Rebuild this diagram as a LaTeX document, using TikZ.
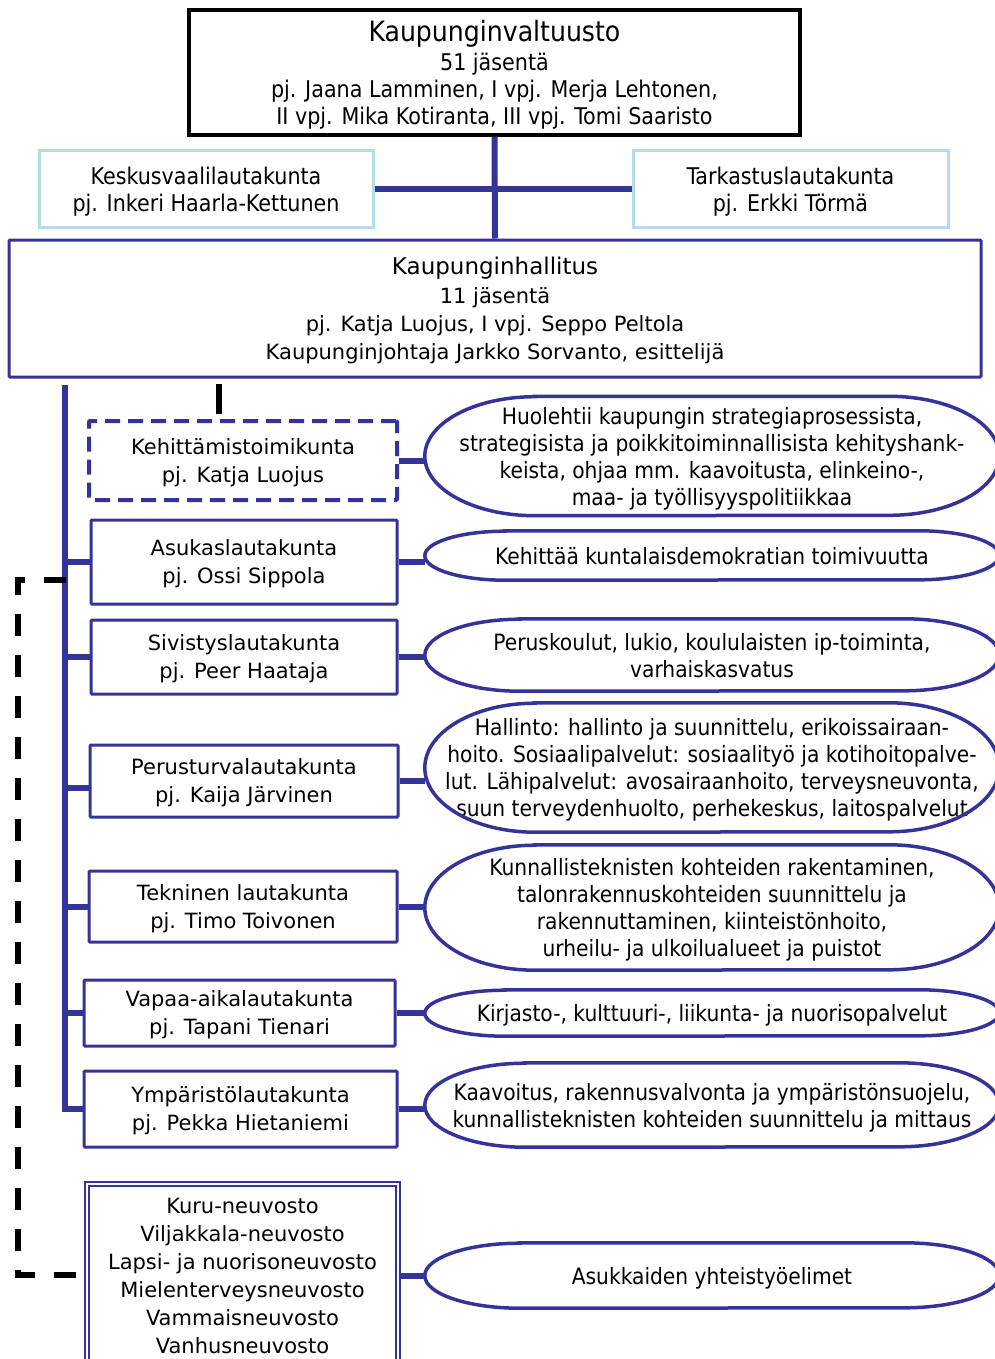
\documentclass[tikz,border=0pt]{standalone}
\usepackage{fontspec}
\setmainfont{DejaVu Sans}
\newfontfamily\cond{DejaVu Sans Condensed}
\usetikzlibrary{calc}
\definecolor{navy}{RGB}{51,51,153}
\definecolor{lblue}{RGB}{180,220,230}
\newcommand\fboxtxt{\fontsize{21}{28}\selectfont}
\newcommand\fcond{\cond\fontsize{22.5}{27}\selectfont}
\newcommand\ftop{\cond\fontsize{23}{27}\selectfont}
\tikzset{
  every node/.style={align=center, inner sep=0pt, text depth=0pt},
  blkbox/.style={draw=black, line width=3.5pt, font=\ftop},
  lbbox/.style={draw=lblue, line width=3pt, font=\ftop},
  nvbox/.style={draw=navy, line width=3pt, rounded corners=1pt, font=\fboxtxt},
  dashbox/.style={draw=navy, line width=4pt, dash pattern=on 15pt off 8pt, rounded corners=1pt, font=\fboxtxt},
  dblbox/.style={draw=navy, double=white, double distance=2.5pt, line width=1.3pt, font=\fboxtxt},
  ovn/.style={draw=none, minimum width=574pt, font=\fcond},
  ovd/.style={draw=navy, line width=3.5pt},
  conn/.style={draw=navy, line width=6pt},
  blkconn/.style={draw=black, line width=6pt},
  blkdash/.style={draw=black, line width=6pt, dash pattern=on 22pt off 19pt},
}
\newcommand\ovalshape[5]{%
  \node[ovn, minimum height=#3pt] (#1) at (712,#2) {#5};
  \draw[ovd] ($(#1.north west)+(#4,0)$) -- ($(#1.north east)+(-#4,0)$)
     arc[start angle=90,end angle=-90,x radius=#4pt,y radius=#3pt/2]
     -- ($(#1.south west)+(#4,0)$)
     arc[start angle=270,end angle=90,x radius=#4pt,y radius=#3pt/2] -- cycle;
}
\begin{document}
\begin{tikzpicture}[x=1pt,y=-1pt]
\useasboundingbox (0,0) rectangle (994,1359);
% top level
\node[blkbox, minimum width=611pt, minimum height=125pt] (kv) at (494.5,72.5)
  {{\fontsize{28}{29}\selectfont Kaupunginvaltuusto}\\[2pt]
   51 jäsentä\\ pj. Jaana Lamminen, I vpj. Merja Lehtonen,\\ II vpj. Mika Kotiranta, III vpj. Tomi Saaristo};
\node[lbbox, minimum width=334pt, minimum height=76pt] (kvl) at (206,189)
  {Keskusvaalilautakunta\\ pj. Inkeri Haarla-Kettunen};
\node[lbbox, minimum width=315pt, minimum height=76pt] (tark) at (790.5,189)
  {Tarkastuslautakunta\\ pj. Erkki Törmä};
\node[nvbox, minimum width=972pt, minimum height=137pt] (kh) at (495,308.5)
  {{\fontsize{23}{29}\selectfont Kaupunginhallitus}\\[1pt]
   11 jäsentä\\ pj. Katja Luojus, I vpj. Seppo Peltola\\ Kaupunginjohtaja Jarkko Sorvanto, esittelijä};
% committees
\node[dashbox, minimum width=308pt, minimum height=79pt] (kehi) at (243,460.5)
  {Kehittämistoimikunta\\ pj. Katja Luojus};
\node[nvbox, minimum width=306pt, minimum height=84pt] (asuk) at (244,562)
  {Asukaslautakunta\\ pj. Ossi Sippola};
\node[nvbox, minimum width=306pt, minimum height=74pt] (sivi) at (244,657)
  {Sivistyslautakunta\\ pj. Peer Haataja};
\node[nvbox, minimum width=308pt, minimum height=72pt] (peru) at (244,781)
  {Perusturvalautakunta\\ pj. Kaija Järvinen};
\node[nvbox, minimum width=308pt, minimum height=71pt] (tekn) at (243,906.5)
  {Tekninen lautakunta\\ pj. Timo Toivonen};
\node[nvbox, minimum width=311pt, minimum height=66pt] (vapa) at (239.5,1013)
  {Vapaa-aikalautakunta\\ pj. Tapani Tienari};
\node[nvbox, minimum width=313pt, minimum height=76pt] (ymp) at (240.5,1109)
  {Ympäristölautakunta\\ pj. Pekka Hietaniemi};
\node[dblbox, minimum width=311pt, minimum height=183pt] (neuv) at (242.5,1275.5)
  {Kuru-neuvosto\\ Viljakkala-neuvosto\\ Lapsi- ja nuorisoneuvosto\\ Mielenterveysneuvosto\\ Vammaisneuvosto\\ Vanhusneuvosto};
% ovals
\ovalshape{o1}{456}{119}{110}{Huolehtii kaupungin strategiaprosessista,\\ strategisista ja poikkitoiminnallisista kehityshank-\\ keista, ohjaa mm. kaavoitusta, elinkeino-,\\ maa- ja työllisyyspolitiikkaa}
\ovalshape{o2}{555.5}{49}{80}{Kehittää kuntalaisdemokratian toimivuutta}
\ovalshape{o3}{655}{72}{95}{Peruskoulut, lukio, koululaisten ip-toiminta,\\ varhaiskasvatus}
\ovalshape{o4}{767.5}{129}{110}{Hallinto: hallinto ja suunnittelu, erikoissairaan-\\ hoito. Sosiaalipalvelut: sosiaalityö ja kotihoitopalve-\\ lut. Lähipalvelut: avosairaanhoito, terveysneuvonta,\\ suun terveydenhuolto, perhekeskus, laitospalvelut}
\ovalshape{o5}{907.5}{125}{110}{Kunnallisteknisten kohteiden rakentaminen,\\ talonrakennuskohteiden suunnittelu ja\\ rakennuttaminen, kiinteistönhoito,\\ urheilu- ja ulkoilualueet ja puistot}
\ovalshape{o6}{1013}{46}{80}{Kirjasto-, kulttuuri-, liikunta- ja nuorisopalvelut}
\ovalshape{o7}{1105}{84}{100}{Kaavoitus, rakennusvalvonta ja ympäristönsuojelu,\\ kunnallisteknisten kohteiden suunnittelu ja mittaus}
\ovalshape{o8}{1275.5}{65}{95}{Asukkaiden yhteistyöelimet}
% connectors top
\draw[conn] (kv.south) -- (kh.north);
\draw[conn] (kvl.east) -- (tark.west);
\coordinate (s1) at (219,384);
\coordinate (s2) at (219,414);
\draw[blkconn] (s1) -- (s2);
% left spine
\coordinate (vtop) at (65,385);
\draw[conn] (vtop) |- (ymp.west);
\foreach \n in {asuk,sivi,tekn,vapa} \draw[conn] (vtop |- \n.west) -- (\n.west);
\draw[conn] ($(vtop |- peru.west)+(0,7)$) -- ($(peru.west)+(0,7)$);
% right connectors
\draw[conn] (kehi.east) -- (kehi.east -| o1.west);
\draw[conn] (asuk.east) -- (asuk.east -| o2.west);
\draw[conn] (sivi.east) -- (sivi.east -| o3.west);
\draw[conn] (peru.east) -- (peru.east -| o4.west);
\draw[conn] (tekn.east) -- (tekn.east -| o5.west);
\draw[conn] (vapa.east) -- (vapa.east -| o6.west);
\draw[conn] (ymp.east) -- (ymp.east -| o7.west);
\draw[conn] (neuv.east) -- (o8.west);
% dashed black link
\coordinate (d1) at (76,580);
\coordinate (c1) at (18,580);
\coordinate (c2) at (18,1275);
\coordinate (d2) at (76,1275);
\draw[blkdash] (d2) -- (c2) -- (c1) -- (d1);
\end{tikzpicture}
\end{document}
